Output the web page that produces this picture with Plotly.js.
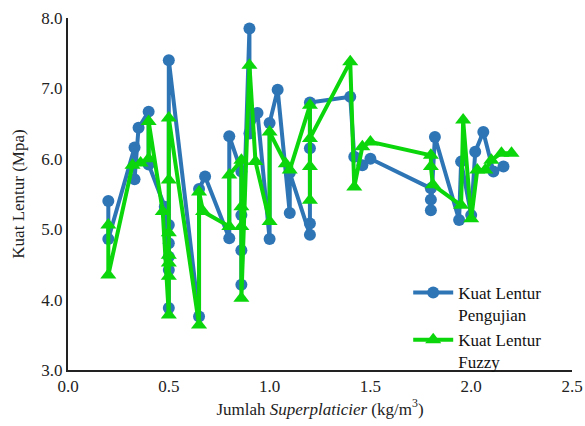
<!DOCTYPE html>
<html>
<head>
<meta charset="utf-8">
<script src="https://cdn.plot.ly/plotly-3.0.1.min.js"></script>
<style>
  html, body { margin: 0; padding: 0; background: #fff; }
  #chart { width: 585px; height: 426px; }
  #chart svg text { font-family: "Liberation Serif", "Times New Roman", "DejaVu Serif", serif !important; }
</style>
</head>
<body>
<div id="chart"></div>
<script>
// Superplasticizer dosage (kg/m3) and flexural strength (MPa), in table order
const xPengujian = [0.20, 0.20, 0.33, 0.33, 0.35, 0.40, 0.40, 0.48, 0.50, 0.50, 0.50, 0.50, 0.50, 0.50,
  0.65, 0.65, 0.68, 0.80, 0.80, 0.86, 0.86, 0.86, 0.86, 0.90, 0.90, 0.94, 1.00, 1.00, 1.04, 1.10, 1.10,
  1.20, 1.20, 1.20, 1.20, 1.40, 1.42, 1.46, 1.50, 1.80, 1.80, 1.80, 1.82, 1.94, 1.95, 2.00, 2.02, 2.06,
  2.11, 2.16];
const yPengujian = [5.40, 4.86, 6.16, 5.71, 6.44, 6.67, 5.92, 5.32, 3.88, 4.42, 4.61, 4.80, 5.06, 7.40,
  3.76, 5.57, 5.75, 4.87, 6.32, 5.82, 5.20, 4.70, 4.21, 7.85, 6.36, 6.65, 4.86, 6.51, 6.98, 5.23, 5.80,
  4.92, 5.08, 6.15, 6.80, 6.88, 6.03, 5.91, 6.00, 5.58, 5.42, 5.27, 6.31, 5.13, 5.96, 5.20, 6.10, 6.38,
  5.82, 5.89];

const xFuzzy = [0.20, 0.20, 0.32, 0.36, 0.40, 0.40, 0.47, 0.50, 0.50, 0.50, 0.50, 0.50, 0.50, 0.50,
  0.65, 0.65, 0.67, 0.80, 0.80, 0.86, 0.86, 0.86, 0.86, 0.90, 0.93, 1.00, 1.00, 1.08, 1.10, 1.20, 1.20,
  1.20, 1.20, 1.40, 1.42, 1.46, 1.50, 1.80, 1.80, 1.81, 1.95, 1.96, 2.00, 2.03, 2.07, 2.10, 2.15, 2.20];
const yFuzzy = [5.06, 4.35, 5.91, 5.94, 6.00, 6.53, 5.25, 3.78, 4.33, 4.52, 4.63, 4.95, 5.70, 6.58,
  3.64, 5.53, 5.25, 5.04, 5.77, 5.98, 5.32, 5.04, 4.02, 7.33, 5.96, 5.11, 6.38, 5.93, 5.84, 6.76, 5.41,
  5.89, 6.29, 7.38, 5.60, 6.17, 6.24, 6.05, 5.89, 5.63, 5.34, 6.55, 5.15, 5.84, 5.84, 5.98, 6.08, 6.08];

const seriesNames = ['Kuat Lentur<br>Pengujian', 'Kuat Lentur<br>Fuzzy'];
const xTickValues = [0, 0.5, 1.0, 1.5, 2.0, 2.5];
const yTickValues = [3, 4, 5, 6, 7, 8];

const serif = 'Liberation Serif';

const traces = [
  {
    x: xPengujian, y: yPengujian, name: seriesNames[0],
    type: 'scatter', mode: 'lines+markers',
    line: { color: '#2E75B6', width: 4 },
    marker: { color: '#2E75B6', symbol: 'circle', size: 12 }
  },
  {
    x: xFuzzy, y: yFuzzy, name: seriesNames[1],
    type: 'scatter', mode: 'lines+markers',
    line: { color: '#0BD60B', width: 4 },
    marker: { color: '#0BD60B', symbol: 'triangle-up', size: 14 }
  }
];

const layout = {
  width: 585, height: 426,
  margin: { l: 68, r: 13, t: 18, b: 56 },
  paper_bgcolor: '#fff', plot_bgcolor: '#fff',
  font: { family: serif, size: 17, color: '#222' },
  showlegend: true,
  legend: {
    x: 0.675, y: 0.27, xanchor: 'left', yanchor: 'top',
    bgcolor: 'rgba(255,255,255,0)', valign: 'top',
    font: { family: serif, size: 17, color: '#111' },
    tracegroupgap: 0, itemwidth: 40
  },
  xaxis: {
    range: [0, 2.5], tickvals: xTickValues, tickformat: '.1f',
    showgrid: false, zeroline: false, showline: true, linecolor: '#222', linewidth: 2,
    ticks: '', ticklen: 0,
    tickfont: { family: serif, size: 17, color: '#222' },
    title: { text: 'Jumlah <i>Superplaticier</i> (kg/m<sup>3</sup>)', font: { family: serif, size: 17, color: '#222' }, standoff: 4 }
  },
  yaxis: {
    range: [3, 8], tickvals: yTickValues, tickformat: '.1f',
    showgrid: false, zeroline: false, showline: true, linecolor: '#222', linewidth: 2,
    ticks: '', ticklen: 0,
    tickfont: { family: serif, size: 17, color: '#222' },
    title: { text: 'Kuat Lentur (Mpa)', font: { family: serif, size: 17, color: '#222' }, standoff: 12 }
  }
};

Plotly.newPlot('chart', traces, layout, { displayModeBar: false, staticPlot: true });
</script>
</body>
</html>
